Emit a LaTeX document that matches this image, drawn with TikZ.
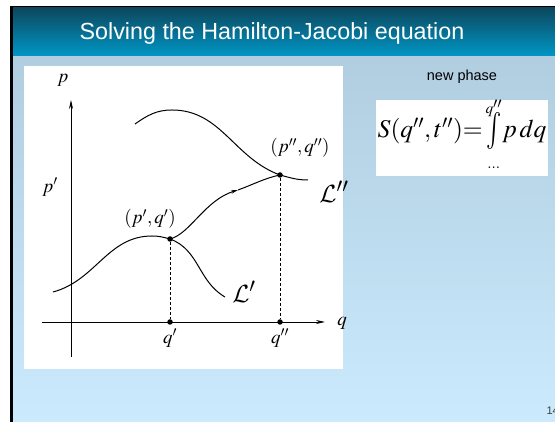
\documentclass[tikz,border=0pt]{standalone}
\usepackage{mathptmx}
\usepackage[no-math]{fontspec}
\setsansfont{Liberation Sans}
\DeclareMathAlphabet{\mathcal}{OMS}{cmsy}{m}{n}
\usetikzlibrary{positioning,arrows.meta}
\definecolor{titletop}{RGB}{12,72,94}
\definecolor{titlebot}{RGB}{0,152,200}
\definecolor{bodytop}{RGB}{176,206,224}
\definecolor{bodybot}{RGB}{203,234,253}
\newcommand{\tallint}{\mathop{\vcenter{\hbox{\scalebox{1}[1.45]{$\int$}}}}}
\newcommand{\limbox}[2]{\raisebox{#1}[0pt][0pt]{$\scriptscriptstyle #2$}}

\begin{document}
\begin{tikzpicture}[x=1pt,y=1pt,
  lbl/.style={font=\fontsize{19}{22}\selectfont,inner sep=1pt},
  curvelbl/.style={font=\fontsize{28}{30}\selectfont,inner sep=1pt},
  dot/.style={circle,fill,inner sep=0pt,minimum size=5.5pt},
  axis/.style={line width=0.8pt,-{Stealth[length=9pt,width=4pt]}},
  curve/.style={line width=1pt}]
\useasboundingbox (0,0) rectangle (555,422);
% slide background
\fill[white] (0,0) rectangle (555,422);
\fill[black] (10,0) rectangle (555,416);
\shade[top color=titletop,bottom color=titlebot] (13,365) rectangle (555,414);
\shade[top color=bodytop,bottom color=bodybot] (13,0) rectangle (555,365);
\node[font=\sffamily\fontsize{23.3}{26}\selectfont,text=white] (title) at (272,389) {Solving the Hamilton-Jacobi equation};
\node[font=\sffamily\fontsize{14.5}{16}\selectfont] (phase) at (462,345) {new phase};
\node[fill=white,minimum width=172pt,minimum height=76pt,inner sep=0pt,font=\fontsize{25.5}{28}\selectfont] (form) at (462,284)
  {$S(q'',t''){=}\tallint\limits_{\limbox{-3pt}{\ldots}}^{\limbox{-6pt}{q''}}\!p\,dq$};
\node[font=\sffamily\fontsize{11}{12}\selectfont,text=black!75,anchor=west] (page) at (543,11) {14};
% phase plane
\fill[white] (24,53) rectangle (343,356);
\coordinate (xs) at (42,100);
\coordinate (xe) at (325,100);
\coordinate (ys) at (71,65);
\coordinate (ye) at (71,322);
\draw[axis] (xs) -- (xe);
\draw[axis] (ys) -- (ye);
\node[lbl] (plab) at (63,342) {$p$};
\node[lbl] (qlab) at (342,99) {$q$};
\node[lbl] (p1lab) at (50,235) {$p'$};
\node[dot] (A) at (170,183) {};
\node[dot] (B) at (280,247) {};
\node[dot] (qa) at (170,100) {};
\node[dot] (qb) at (280,100) {};
\draw[dash pattern=on 3pt off 2pt] (A) -- (qa);
\draw[dash pattern=on 3pt off 2pt] (B) -- (qb);
\node[lbl,below=3pt of qa] (q1lab) {$q'$};
\node[lbl,below=3pt of qb] (q2lab) {$q''$};
\node[lbl] (Alab) at (150,203) {$(p',q')$};
\node[lbl] (Blab) at (300,274) {$(p'',q'')$};
\node[curvelbl] (L2) at (334,230) {$\mathcal{L}''$};
\node[curvelbl] (L1) at (244,130) {$\mathcal{L}'$};
\draw[curve] (53,130) to[out=15,in=180] (152,186) to[out=0,in=165] (A.center) to[out=-20,in=150] (225,125);
\draw[curve] (135,298) to[out=35,in=180] (172,312) to[out=0,in=160] (B.center) to[out=-15,in=180] (308,242);
\coordinate (M) at (238,232);
\draw[curve,-{Stealth[length=7pt,width=3.5pt]}] (A.center) .. controls (190,188) and (205,222) .. (M);
\draw[curve] (M) .. controls (252,237) and (265,244) .. (B.center);
\end{tikzpicture}
\end{document}
